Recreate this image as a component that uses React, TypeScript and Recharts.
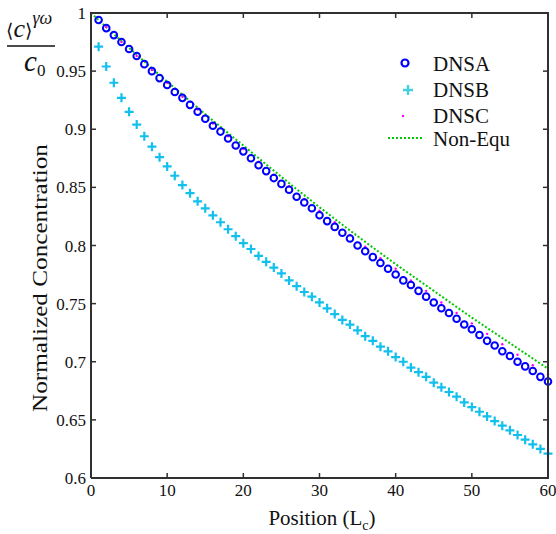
import React from 'react';
import { ComposedChart, Scatter, Line, XAxis, YAxis } from 'recharts';

// ---- data ----
const xTicks = [0, 10, 20, 30, 40, 50, 60];
const yTicks = [0.6, 0.65, 0.7, 0.75, 0.8, 0.85, 0.9, 0.95, 1];

const dnsaX = [1,2,3,4,5,6,7,8,9,10,11,12,13,14,15,16,17,18,19,20,21,22,23,24,25,26,27,28,29,30,31,32,33,34,35,36,37,38,39,40,41,42,43,44,45,46,47,48,49,50,51,52,53,54,55,56,57,58,59,60];
const dnsaY = [0.994,0.987,0.981,0.975,0.969,0.963,0.956,0.950,0.944,0.938,0.932,0.927,0.921,0.915,0.909,0.903,0.898,0.892,0.886,0.881,0.875,0.869,0.864,0.858,0.853,0.848,0.842,0.837,0.832,0.826,0.821,0.816,0.811,0.806,0.800,0.795,0.790,0.785,0.780,0.775,0.770,0.766,0.761,0.756,0.751,0.746,0.742,0.737,0.732,0.728,0.723,0.718,0.714,0.709,0.705,0.700,0.696,0.692,0.687,0.683];

const dnsbX = [1,2,3,4,5,6,7,8,9,10,11,12,13,14,15,16,17,18,19,20,21,22,23,24,25,26,27,28,29,30,31,32,33,34,35,36,37,38,39,40,41,42,43,44,45,46,47,48,49,50,51,52,53,54,55,56,57,58,59,60];
const dnsbY = [0.971,0.954,0.940,0.927,0.915,0.904,0.894,0.885,0.876,0.868,0.860,0.852,0.845,0.838,0.832,0.826,0.820,0.814,0.808,0.802,0.797,0.791,0.786,0.781,0.776,0.770,0.765,0.760,0.756,0.751,0.746,0.741,0.736,0.732,0.727,0.722,0.718,0.713,0.709,0.704,0.700,0.695,0.691,0.687,0.682,0.678,0.674,0.670,0.665,0.661,0.657,0.653,0.649,0.645,0.641,0.637,0.633,0.629,0.625,0.621];

const dnscX = [0,2,4,6,8,10,12,14,16,18,20,22,24,26,28,30,32,34,36,38,40,42,44,46,48,50,52,54,56,58,60];
const dnscY = [1.000,0.988,0.975,0.963,0.951,0.940,0.928,0.917,0.905,0.894,0.883,0.872,0.861,0.851,0.840,0.830,0.820,0.809,0.799,0.789,0.780,0.770,0.761,0.751,0.742,0.733,0.724,0.715,0.706,0.697,0.689];

const nonEquX = [0,5,10,15,20,25,30,35,40,45,50,55,60];
const nonEquY = [1.000,0.970,0.941,0.913,0.886,0.859,0.833,0.808,0.784,0.761,0.738,0.716,0.694];

const dnsa = dnsaX.map((x, i) => ({ x, y: dnsaY[i] }));
const dnsb = dnsbX.map((x, i) => ({ x, y: dnsbY[i] }));
const dnsc = dnscX.map((x, i) => ({ x, y: dnscY[i] }));
const nonEqu = nonEquX.map((x, i) => ({ x, y: nonEquY[i] }));

// ---- layout & styles ----
const W = 556;
const H = 534;
const MARGIN = { top: 13, right: 8, bottom: 0, left: 0 };
const Y_AXIS_W = 91;
const X_AXIS_H = 56;
const PL = MARGIN.left + Y_AXIS_W;          // plot left
const PR = W - MARGIN.right;                // plot right
const PT = MARGIN.top;                      // plot top
const PB = H - MARGIN.bottom - X_AXIS_H;    // plot bottom
const X_DOM = [0, 60];
const Y_DOM = [0.6, 1];

const SERIF = '"Liberation Serif", "Times New Roman", serif';
const AXIS = '#303030';
const FRAME_W = 2;
const BLUE = '#0000ff';
const CYAN = '#12c0ee';
const MAGENTA = '#ff00ff';
const GREEN = '#00c800';
const TICK = 5;

const fmt = (v: number) => String(Number(v.toFixed(2)));

// frame tick positions (same linear mapping as the chart's axes)
const tx = (v: number) => PL + ((v - X_DOM[0]) / (X_DOM[1] - X_DOM[0])) * (PR - PL);
const ty = (v: number) => PB - ((v - Y_DOM[0]) / (Y_DOM[1] - Y_DOM[0])) * (PB - PT);

// default tickSize 6 + tickMargin 2 => label anchor is 8px from the axis line
const BottomTickLabel = (p: any) => (
  <text x={p.x} y={p.y + 10} textAnchor="middle" fontFamily={SERIF} fontSize={17} fill="#111">
    {fmt(p.payload.value)}
  </text>
);
const LeftTickLabel = (p: any) => (
  <text x={p.x + 3} y={p.y + 6} textAnchor="end" fontFamily={SERIF} fontSize={17} fill="#111">
    {fmt(p.payload.value)}
  </text>
);

const CircleShape = (p: any) => (
  <circle cx={p.cx} cy={p.cy} r={3.3} fill="none" stroke={BLUE} strokeWidth={2} />
);
const CrossShape = (p: any) => (
  <path d={`M${p.cx - 4.5},${p.cy}h9M${p.cx},${p.cy - 4.5}v9`} stroke={CYAN} strokeWidth={2.2} />
);
const DotShape = (p: any) => <circle cx={p.cx} cy={p.cy} r={1.2} fill={MAGENTA} />;

export default function App() {
  return (
    <div style={{ position: 'absolute', left: 0, top: 0, width: W, height: H, background: '#fff' }}>
      <ComposedChart width={W} height={H} data={nonEqu} margin={MARGIN}>
        <XAxis dataKey="x" type="number" domain={X_DOM} ticks={xTicks} height={X_AXIS_H}
          tickLine={false} tick={<BottomTickLabel />} axisLine={{ stroke: AXIS, strokeWidth: FRAME_W }} />
        <YAxis dataKey="y" type="number" domain={Y_DOM} ticks={yTicks} width={Y_AXIS_W}
          tickLine={false} tick={<LeftTickLabel />} axisLine={{ stroke: AXIS, strokeWidth: FRAME_W }} />
        <Line dataKey="y" type="monotone" stroke={GREEN} strokeWidth={2} strokeDasharray="2 2"
          dot={false} activeDot={false} isAnimationActive={false} />
        <Scatter data={dnsc} dataKey="y" shape={<DotShape />} isAnimationActive={false} />
        <Scatter data={dnsa} dataKey="y" shape={<CircleShape />} isAnimationActive={false} />
        <Scatter data={dnsb} dataKey="y" shape={<CrossShape />} isAnimationActive={false} />
      </ComposedChart>

      <svg width={W} height={H} style={{ position: 'absolute', left: 0, top: 0, pointerEvents: 'none' }}>
        {/* box frame (top & right edges) with inward ticks on all sides */}
        <line x1={PL - 1} x2={PR + 1} y1={PT} y2={PT} stroke={AXIS} strokeWidth={FRAME_W} />
        <line x1={PR} x2={PR} y1={PT} y2={PB + 1} stroke={AXIS} strokeWidth={FRAME_W} />
        {xTicks.slice(1, -1).map((t) => (
          <g key={'xt' + t}>
            <line x1={tx(t)} x2={tx(t)} y1={PT} y2={PT + TICK} stroke={AXIS} strokeWidth={1.5} />
            <line x1={tx(t)} x2={tx(t)} y1={PB} y2={PB - TICK} stroke={AXIS} strokeWidth={1.5} />
          </g>
        ))}
        {yTicks.slice(1, -1).map((t) => (
          <g key={'yt' + t}>
            <line x1={PL} x2={PL + TICK} y1={ty(t)} y2={ty(t)} stroke={AXIS} strokeWidth={1.5} />
            <line x1={PR} x2={PR - TICK} y1={ty(t)} y2={ty(t)} stroke={AXIS} strokeWidth={1.5} />
          </g>
        ))}

        {/* top-left ratio label */}
        <text x={6} y={37} fontFamily={SERIF} fontSize={26} fill="#111">
          <tspan fontFamily='"DejaVu Serif", serif' fontSize={19}>⟨</tspan>
          <tspan fontStyle="italic">c</tspan>
          <tspan fontFamily='"DejaVu Serif", serif' fontSize={19}>⟩</tspan>
          <tspan fontStyle="italic" fontSize={18} dy={-13}>γω</tspan>
        </text>
        <line x1={7} x2={55} y1={46} y2={46} stroke="#111" strokeWidth={1.5} />
        <text x={24} y={71} fontFamily={SERIF} fontSize={29} fill="#111">
          <tspan fontStyle="italic">c</tspan>
          <tspan fontSize={17} dy={5}>0</tspan>
        </text>

        {/* axis titles */}
        <text transform="translate(47,278) rotate(-90) scale(1.2,1)" textAnchor="middle"
          fontFamily={SERIF} fontSize={21} fill="#111">Normalized Concentration</text>
        <text x={322} y={525} textAnchor="middle" fontFamily={SERIF} fontSize={21} fill="#111">
          Position (L<tspan fontSize={14} dy={5}>c</tspan><tspan dy={-5}>)</tspan>
        </text>

        {/* legend */}
        <g fontFamily={SERIF} fontSize={21} fill="#111">
          <circle cx={405} cy={63} r={3.5} fill="none" stroke={BLUE} strokeWidth={2.2} />
          <text x={433} y={71}>DNSA</text>
          <path d="M403,90h10M408,85v10" stroke="#44d0dc" strokeWidth={2.4} />
          <text x={433} y={97}>DNSB</text>
          <circle cx={403} cy={116} r={1.2} fill={MAGENTA} />
          <text x={433} y={123}>DNSC</text>
          <line x1={388} x2={423} y1={138} y2={138} stroke={GREEN} strokeWidth={2} strokeDasharray="2 2" />
          <text x={433} y={146}>Non-Equ</text>
        </g>
      </svg>
    </div>
  );
}
